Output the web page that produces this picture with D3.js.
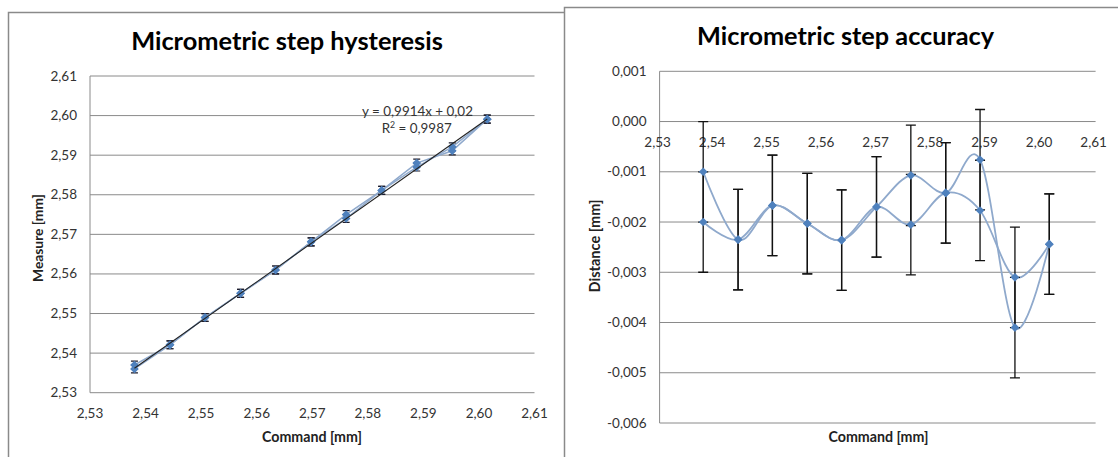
<!DOCTYPE html>
<html>
<head>
<meta charset="utf-8">
<script src="https://cdn.jsdelivr.net/npm/d3@7/dist/d3.min.js"></script>
<style>
body{margin:0;background:#fff;}
svg text{font-family:Lato,"Liberation Sans",sans-serif;fill:#333;}
</style>
</head>
<body>
<svg id="chart" width="1118" height="457"></svg>
<script>
// command positions (mm) shared by both charts
var command=[2.5380,2.5444,2.5507,2.5571,2.5634,2.5698,2.5761,2.5825,2.5888,2.5952,2.6015]
// hysteresis chart: measured position, two passes
var measureUp=[2.5370,2.5421,2.5490,2.5551,2.5610,2.5681,2.5750,2.5811,2.5880,2.5911,2.5991]
var measureDown=[2.5360,2.5421,2.5490,2.5551,2.5610,2.5681,2.5740,2.5811,2.5870,2.5921,2.5991]
var measureErr=[0.001,0.001,0.001,0.001,0.001,0.001,0.001,0.001,0.001,0.001,0.001]
var trendSlope=0.9914, trendIntercept=0.02, trendR2=0.9987
// accuracy chart: distance measure-command, two passes
var distUp=[-0.0010,-0.00235,-0.00167,-0.00203,-0.00236,-0.0017,-0.00107,-0.00142,-0.00076,-0.0041,-0.00244]
var distDown=[-0.0020,-0.00235,-0.00167,-0.00203,-0.00236,-0.0017,-0.00205,-0.00142,-0.00177,-0.0031,-0.00244]
var distErr=[0.001,0.001,0.001,0.001,0.001,0.001,0.001,0.001,0.001,0.001,0.001]
// tick labels
var commandTicks=[2.53,2.54,2.55,2.56,2.57,2.58,2.59,2.60,2.61]
var measureTicks=[2.53,2.54,2.55,2.56,2.57,2.58,2.59,2.60,2.61]
var distTicks=[0.001,0,-0.001,-0.002,-0.003,-0.004,-0.005,-0.006]

var loc=d3.formatLocale({decimal:',',thousands:'.',grouping:[3],currency:['',''],minus:'-'})
var f2=loc.format('.2f'), f3=loc.format('.3f')

var svg=d3.select('#chart')
var gridCol='#8a8a8a', lineCol='#8fa9cc', markCol='#4f81bd'
var diamond=d3.symbol().type(d3.symbolDiamond2).size(48)

function fit(t,w){
	var l=t.node().getComputedTextLength()
	t.attr('font-size',parseFloat(t.attr('font-size'))*w/l)
}

// frames
svg.append('rect').attr('x',8.5).attr('y',12.5).attr('width',620).attr('height',500)
	.attr('fill','#fff').attr('stroke',gridCol).attr('stroke-width',1.5)
svg.append('rect').attr('x',564.5).attr('y',7.5).attr('width',620).attr('height',500)
	.attr('fill','#fff').attr('stroke',gridCol).attr('stroke-width',1.5)

/* ---------- left: hysteresis ---------- */
var xL=d3.scaleLinear().domain([2.53,2.61]).range([90,534.5])
var yL=d3.scaleLinear().domain([2.53,2.61]).range([392.7,76])
var gL=svg.append('g')

gL.selectAll('.grid').data(measureTicks).enter().append('line')
	.attr('x1',xL(2.53)).attr('x2',xL(2.61))
	.attr('y1',function(d){return yL(d)}).attr('y2',function(d){return yL(d)})
	.attr('stroke',gridCol).attr('stroke-width',1)
gL.append('line').attr('x1',xL(2.53)).attr('x2',xL(2.53)).attr('y1',yL(2.61)).attr('y2',yL(2.53))
	.attr('stroke',gridCol).attr('stroke-width',1)

gL.selectAll('.ytl').data(measureTicks).enter().append('text')
	.attr('x',77).attr('y',function(d){return yL(d)+4.5})
	.attr('text-anchor','end').attr('font-size',13.5).text(f2)
gL.selectAll('.xtl').data(commandTicks).enter().append('text')
	.attr('x',function(d){return xL(d)}).attr('y',417.5)
	.attr('text-anchor','middle').attr('font-size',13.5).text(f2)

var lineL=d3.line().x(function(d,i){return xL(command[i])}).y(function(d){return yL(d)})
;[measureUp,measureDown].forEach(function(s){
	gL.append('path').datum(s).attr('d',lineL).attr('fill','none')
		.attr('stroke',lineCol).attr('stroke-width',1.5)
})
;[measureUp,measureDown].forEach(function(s){
	s.forEach(function(v,i){
		var x=xL(command[i]), y1=yL(v+measureErr[i]), y2=yL(v-measureErr[i])
		gL.append('path').attr('d','M'+x+','+y1+'V'+y2+'M'+(x-3.5)+','+y1+'h7M'+(x-3.5)+','+y2+'h7')
			.attr('stroke','#1c1c2c').attr('stroke-width',1.2).attr('fill','none')
	})
})
;[measureUp,measureDown].forEach(function(s){
	gL.selectAll(null).data(s).enter().append('path')
		.attr('d',diamond).attr('fill',markCol)
		.attr('transform',function(d,i){return 'translate('+xL(command[i])+','+yL(d)+')'})
})
var tx=d3.extent(command)
gL.append('line')
	.attr('x1',xL(tx[0])).attr('y1',yL(trendSlope*tx[0]+trendIntercept))
	.attr('x2',xL(tx[1])).attr('y2',yL(trendSlope*tx[1]+trendIntercept))
	.attr('stroke','#222').attr('stroke-width',1.1)

var eq=gL.append('text').attr('x',417.5).attr('y',116).attr('text-anchor','middle').attr('font-size',12)
	.text('y = '+loc.format('.4f')(trendSlope)+'x + '+loc.format('.2f')(trendIntercept))
	.call(fit,111)
var eqSize=parseFloat(eq.attr('font-size'))
gL.append('text').attr('x',416.7).attr('y',133).attr('text-anchor','middle').attr('font-size',eqSize)
	.html('R<tspan dy="-5" font-size="'+(eqSize*0.65)+'">2</tspan><tspan dy="5"> = '+loc.format('.4f')(trendR2)+'</tspan>')

gL.append('text').attr('x',287).attr('y',50).attr('text-anchor','middle')
	.attr('font-size',22).attr('font-weight','bold').style('fill','#000')
	.text('Micrometric step hysteresis').call(fit,312)
gL.append('text').attr('x',312).attr('y',442).attr('text-anchor','middle')
	.attr('font-size',13).attr('font-weight','bold').style('fill','#222')
	.text('Command [mm]').call(fit,100)
gL.append('text').attr('transform','translate(43,238) rotate(-90)').attr('text-anchor','middle')
	.attr('font-size',13).attr('font-weight','bold').style('fill','#222')
	.text('Measure [mm]').call(fit,88)

/* ---------- right: accuracy ---------- */
var xR=d3.scaleLinear().domain([2.53,2.61]).range([659.6,1095.6])
var yR=d3.scaleLinear().domain([-0.006,0.001]).range([423,71.3])
var gR=svg.append('g')

gR.selectAll('.grid').data(distTicks).enter().append('line')
	.attr('x1',xR(2.53)).attr('x2',xR(2.61))
	.attr('y1',function(d){return yR(d)}).attr('y2',function(d){return yR(d)})
	.attr('stroke',gridCol).attr('stroke-width',1)
gR.append('line').attr('x1',xR(2.53)).attr('x2',xR(2.53)).attr('y1',yR(0.001)).attr('y2',yR(-0.006))
	.attr('stroke',gridCol).attr('stroke-width',1)

gR.selectAll('.ytl').data(distTicks).enter().append('text')
	.attr('x',646.5).attr('y',function(d){return yR(d)+4.5})
	.attr('text-anchor','end').attr('font-size',13.5).text(f3)
gR.selectAll('.xtl').data(commandTicks).enter().append('text')
	.attr('x',function(d){return xR(d)-2}).attr('y',yR(0)+25)
	.attr('text-anchor','middle').attr('font-size',13.5).text(f2)

var lineR=d3.line().curve(d3.curveCardinal.tension(0))
	.x(function(d,i){return xR(command[i])}).y(function(d){return yR(d)})
;[distUp,distDown].forEach(function(s){
	gR.append('path').datum(s).attr('d',lineR).attr('fill','none')
		.attr('stroke',lineCol).attr('stroke-width',1.8)
})
;[distUp,distDown].forEach(function(s){
	s.forEach(function(v,i){
		var x=xR(command[i]), y1=yR(v+distErr[i]), y2=yR(v-distErr[i])
		gR.append('path').attr('d','M'+x+','+y1+'V'+y2+'M'+(x-5)+','+y1+'h10M'+(x-5)+','+y2+'h10')
			.attr('stroke','#111').attr('stroke-width',1.3).attr('fill','none')
	})
})
;[distUp,distDown].forEach(function(s){
	gR.selectAll(null).data(s).enter().append('path')
		.attr('d',diamond).attr('fill',markCol)
		.attr('transform',function(d,i){return 'translate('+xR(command[i])+','+yR(d)+')'})
})

gR.append('text').attr('x',845.6).attr('y',45).attr('text-anchor','middle')
	.attr('font-size',22).attr('font-weight','bold').style('fill','#000')
	.text('Micrometric step accuracy').call(fit,297)
gR.append('text').attr('x',878.5).attr('y',442).attr('text-anchor','middle')
	.attr('font-size',13).attr('font-weight','bold').style('fill','#222')
	.text('Command [mm]').call(fit,100)
gR.append('text').attr('transform','translate(600,246) rotate(-90)').attr('text-anchor','middle')
	.attr('font-size',13).attr('font-weight','bold').style('fill','#222')
	.text('Distance [mm]').call(fit,93)
</script>
</body>
</html>
